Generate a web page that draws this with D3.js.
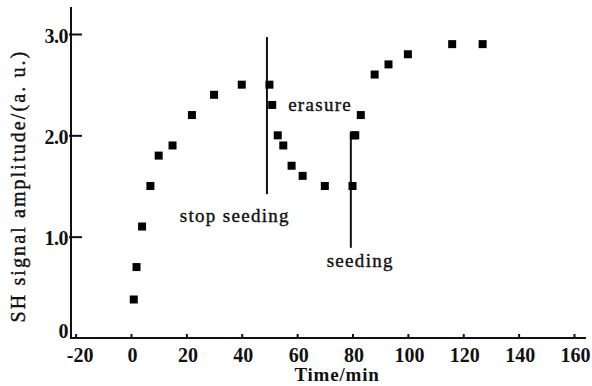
<!DOCTYPE html>
<html>
<head>
<meta charset="utf-8">
<script src="https://cdn.jsdelivr.net/npm/d3@7"></script>
<style>
  body { margin: 0; background: #fff; }
  text { font-family: "Liberation Serif", "DejaVu Serif", serif; fill: #111; }
</style>
</head>
<body>
<div id="chart"></div>
<script>
// measured points (time in min, SH amplitude in a.u.)
const times = [1, 2, 4, 7, 10, 15, 22, 30, 40, 50, 51, 53, 55, 58, 62, 70, 80, 80.5, 81, 83, 88, 93, 100, 116, 127];
const amps = [0.38, 0.7, 1.1, 1.5, 1.8, 1.9, 2.2, 2.4, 2.5, 2.5, 2.3, 2.0, 1.9, 1.7, 1.6, 1.5, 1.5, 2.0, 2.0, 2.2, 2.6, 2.7, 2.8, 2.9, 2.9];

const xTicks = [-20, 0, 20, 40, 60, 80, 100, 120, 140, 160];
const yTicks = [0, 1, 2, 3];
const yTickLabels = ["0", "1.0", "2.0", "3.0"];

// event markers: vertical lines and their notes
const markers = [
  { t: 49.1, y0: 1.42, y1: 2.97 },
  { t: 79.4, y0: 0.89, y1: 2.02 },
];
const notes = [
  { text: "stop seeding", t: 37.5, a: 1.19 },
  { text: "erasure", t: 68.3, a: 2.28 },
  { text: "seeding", t: 82.8, a: 0.74 },
];

const width = 592,
  height = 386;

const x = d3.scaleLinear().domain([0, 160]).range([131, 574]);
const y = d3.scaleLinear().domain([0, 3]).range([338, 34]);

const svg = d3
  .select("#chart")
  .append("svg")
  .attr("width", width)
  .attr("height", height);

const xMin = x.invert(71),
  xMax = x.invert(586),
  yMax = y.invert(7);

// axes
svg
  .append("line")
  .attr("x1", x(xMin))
  .attr("x2", x(xMax))
  .attr("y1", y(0))
  .attr("y2", y(0))
  .attr("stroke", "#111")
  .attr("stroke-width", 2);

svg
  .append("line")
  .attr("x1", x(xMin))
  .attr("x2", x(xMin))
  .attr("y1", y(0) + 1)
  .attr("y2", y(yMax))
  .attr("stroke", "#111")
  .attr("stroke-width", 2);

const xAxis = d3
  .axisBottom(x)
  .tickValues(xTicks)
  .tickFormat((d) => String(d))
  .tickSize(-4)
  .tickPadding(10);

const gx = svg
  .append("g")
  .attr("transform", "translate(0," + y(0) + ")")
  .call(xAxis);
gx.select(".domain").remove();
gx.selectAll(".tick line").attr("stroke", "#111").attr("stroke-width", 2);
gx.selectAll(".tick text")
  .attr("font-size", 20)
  .attr("font-weight", "bold")
  .attr("fill", "#111")
  .attr("dx", (d) => (d === -20 ? 4 : 1));

const yAxis = d3
  .axisLeft(y)
  .tickValues(yTicks)
  .tickFormat((d, i) => yTickLabels[i])
  .tickSize(-11)
  .tickPadding(3);

const gy = svg
  .append("g")
  .attr("transform", "translate(" + x(xMin) + ",0)")
  .call(yAxis);
gy.select(".domain").remove();
gy.selectAll(".tick line")
  .attr("stroke", "#111")
  .attr("stroke-width", 2)
  .attr("x1", -2)
  .filter((d) => d === 0)
  .remove();
gy.selectAll(".tick text")
  .attr("font-size", 20)
  .attr("font-weight", "bold")
  .attr("fill", "#111")
  .attr("dy", (d) => (d === 0 ? "-0.05em" : "0.4em"))
  .attr("letter-spacing", -0.5);

// axis titles
svg
  .append("text")
  .attr("x", 337)
  .attr("y", 381)
  .attr("text-anchor", "middle")
  .attr("font-size", 19)
  .attr("font-weight", "bold")
  .attr("letter-spacing", 0.8)
  .text("Time/min");

svg
  .append("text")
  .attr("transform", "translate(25,186) rotate(-90)")
  .attr("text-anchor", "middle")
  .attr("font-size", 20)
  .attr("letter-spacing", 2.1)
  .attr("stroke", "#111")
  .attr("stroke-width", 0.4)
  .text("SH signal amplitude/(a. u.)");

// event lines
svg
  .selectAll(".marker")
  .data(markers)
  .enter()
  .append("line")
  .attr("class", "marker")
  .attr("x1", (d) => x(d.t))
  .attr("x2", (d) => x(d.t))
  .attr("y1", (d) => y(d.y0))
  .attr("y2", (d) => y(d.y1))
  .attr("stroke", "#111")
  .attr("stroke-width", 2);

svg
  .selectAll(".note")
  .data(notes)
  .enter()
  .append("text")
  .attr("class", "note")
  .attr("x", (d) => x(d.t))
  .attr("y", (d) => y(d.a))
  .attr("text-anchor", "middle")
  .attr("dominant-baseline", "middle")
  .attr("font-size", 19)
  .attr("letter-spacing", 1.3)
  .attr("stroke", "#111")
  .attr("stroke-width", 0.4)
  .text((d) => d.text);

// data points
const s = 8;
svg
  .selectAll(".pt")
  .data(times.map((t, i) => ({ t: t, a: amps[i] })))
  .enter()
  .append("rect")
  .attr("class", "pt")
  .attr("x", (d) => x(d.t) - s / 2)
  .attr("y", (d) => y(d.a) - s / 2)
  .attr("width", s)
  .attr("height", s)
  .attr("fill", "#000");
</script>
</body>
</html>
